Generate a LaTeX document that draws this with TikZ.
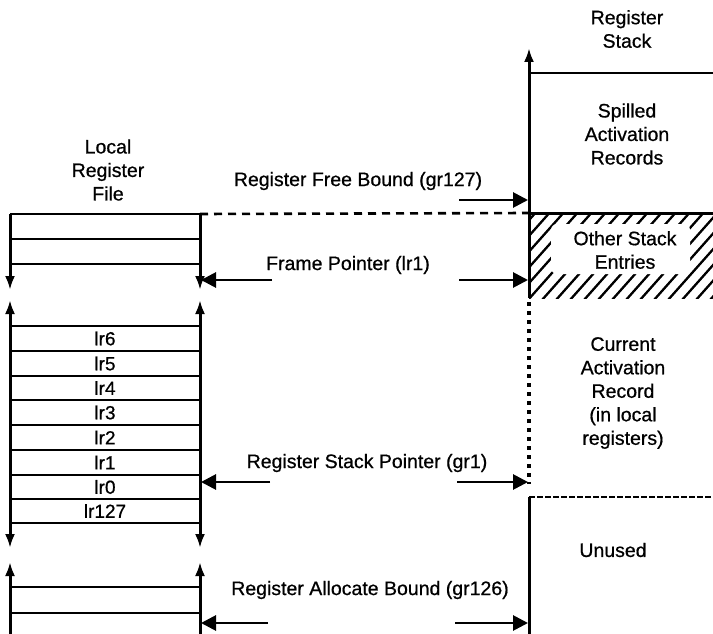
\documentclass[tikz,border=0pt]{standalone}
\usepackage{fontspec}
\setmainfont{Liberation Sans}[FakeBold=0.7]
\usetikzlibrary{arrows.meta}
\begin{document}
\begin{tikzpicture}[x=1pt,y=-1pt,
  txt/.style={font=\fontsize{19.5}{23.5}\selectfont, align=center, inner sep=0pt},
  reglbl/.style={font=\fontsize{19}{23}\selectfont, inner sep=0pt},
  wall/.style={line width=3pt},
  rowline/.style={line width=2.6pt},
  vt/.tip={Latex[length=14pt,width=10pt]},
  ptr/.style={line width=2.8pt, -{Triangle[length=15pt,width=15pt]}},
  dotline/.style={line width=3.4pt, dash pattern=on 4pt off 5pt},
  dashline/.style={line width=2.6pt, dash pattern=on 8pt off 6pt}]
\useasboundingbox (0,0) rectangle (713,634);

% ---------- Local register file ----------
\node[txt] (lrf) at (108,170) {Local\\Register\\File};

% top block
\coordinate (t1L) at (10,214); \coordinate (t1R) at (200,214);
\coordinate (t1Ld) at (10,290); \coordinate (t1Rd) at (200,290);
\draw[wall,-vt] (t1L) -- (t1Ld);
\draw[wall,-vt] (t1R) -- (t1Rd);
\foreach \y in {214,239,264} \draw[rowline] (10,\y) -- (200,\y);

% middle block
\coordinate (m1Lu) at (10,300); \coordinate (m1Ld) at (10,548);
\coordinate (m1Ru) at (200,300); \coordinate (m1Rd) at (200,548);
\draw[wall,vt-vt] (m1Lu) -- (m1Ld);
\draw[wall,vt-vt] (m1Ru) -- (m1Rd);
\foreach \y in {326,351,376,400,425,450,475,499,523} \draw[rowline] (10,\y) -- (200,\y);
\node[reglbl] (r6) at (105,338.5) {lr6};
\node[reglbl] (r5) at (105,363.5) {lr5};
\node[reglbl] (r4) at (105,388) {lr4};
\node[reglbl] (r3) at (105,412.5) {lr3};
\node[reglbl] (r2) at (105,437.5) {lr2};
\node[reglbl] (r1) at (105,462.5) {lr1};
\node[reglbl] (r0) at (105,487) {lr0};
\node[reglbl] (r127) at (105,511) {lr127};

% bottom block
\coordinate (b1Lu) at (10,562); \coordinate (b1Ru) at (200,562);
\coordinate (b1Ld) at (10,634); \coordinate (b1Rd) at (200,634);
\draw[wall,vt-] (b1Lu) -- (b1Ld);
\draw[wall,vt-] (b1Ru) -- (b1Rd);
\foreach \y in {587,613} \draw[rowline] (10,\y) -- (200,\y);

% ---------- Register stack ----------
\node[txt] (rs) at (627,29) {Register\\Stack};
\coordinate (sTop) at (529,48);
\coordinate (sHat) at (529,298);
\draw[line width=2.4pt] (529,73) -- (713,73);
\node[txt] (spill) at (627,134) {Spilled\\Activation\\Records};

% hatched region
\begin{scope}
  \clip (529,213) rectangle (713,298);
  \foreach \k in {0,...,24} {
    \draw[line width=2.3pt] ({430+\k*14},300) -- ({430+\k*14+80},210);
  }
\end{scope}
\fill[white, rounded corners=6pt] (551,224) rectangle (690,274);
\node[txt] (ose) at (625,250) {Other Stack\\Entries};

% free bound line and stack wall
\draw[wall] (529,213) -- (713,213);
\draw[dashline] (t1R) -- (529,213);
\draw[wall,-{Latex[length=14pt,width=10pt]}] (sHat) -- (sTop);

% current activation record
\coordinate (carB) at (529,484);
\draw[dotline] (529,302) -- (carB);
\node[txt] (car) at (623,393) {Current\\Activation\\Record\\(in local\\registers)};

% unused
\draw[wall] (529,497) -- (529,634);
\draw[line width=2.3pt, dash pattern=on 6pt off 2pt] (529,497) -- (713,497);
\node[txt] (unused) at (613,550) {Unused};

% ---------- pointers ----------
\node[txt] (rfb) at (358,181) {Register Free Bound (gr127)};
\coordinate (rfbS) at (459,200); \coordinate (rfbE) at (528,200);
\draw[ptr] (rfbS) -- (rfbE);

\node[txt] (fp) at (348,265) {Frame Pointer (lr1)};
\coordinate (fpLs) at (272,280); \coordinate (fpLe) at (201,280);
\coordinate (fpRs) at (459,280); \coordinate (fpRe) at (528,280);
\draw[ptr] (fpLs) -- (fpLe);
\draw[ptr] (fpRs) -- (fpRe);

\node[txt] (rsp) at (367,463) {Register Stack Pointer (gr1)};
\coordinate (rspLs) at (270,482); \coordinate (rspLe) at (201,482);
\coordinate (rspRs) at (457,482); \coordinate (rspRe) at (528,482);
\draw[ptr] (rspLs) -- (rspLe);
\draw[ptr] (rspRs) -- (rspRe);

\node[txt] (rab) at (370,590) {Register Allocate Bound (gr126)};
\coordinate (rabLs) at (268,623); \coordinate (rabLe) at (201,623);
\coordinate (rabRs) at (455,623); \coordinate (rabRe) at (528,623);
\draw[ptr] (rabLs) -- (rabLe);
\draw[ptr] (rabRs) -- (rabRe);
\end{tikzpicture}
\end{document}
